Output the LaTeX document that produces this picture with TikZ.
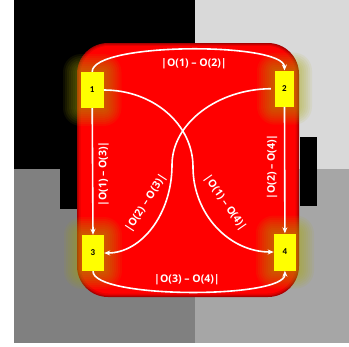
\documentclass[tikz,border=0pt]{standalone}
\usepackage{fontspec}
\setmainfont{Open Sans}
\newfontfamily\numfont{Carlito}
\usetikzlibrary{arrows.meta}
\definecolor{qTR}{HTML}{D9D9D9}
\definecolor{qBL}{HTML}{808080}
\definecolor{qBR}{HTML}{A6A6A6}
\definecolor{rOut}{HTML}{A80000}
\definecolor{rMid1}{HTML}{C80000}
\definecolor{rMid2}{HTML}{E60000}
\definecolor{rIn}{HTML}{FF0000}
\definecolor{glowc}{HTML}{A8A800}
\definecolor{boxyel}{HTML}{FFFF00}
\newcommand\glowbox[4]{%
  \foreach \d in {2,4,...,18}{%
    \fill[glowc, opacity=0.08, rounded corners=\d bp] ({#1-\d},{#2-\d}) rectangle ({#3+\d},{#4+\d});
  }%
}
\begin{document}
\begin{tikzpicture}[x=1bp,y=-1bp,
  numbox/.style={fill=boxyel, inner sep=0pt, minimum height=36bp, minimum width=22bp,
    font=\numfont\bfseries\fontsize{9}{10}\selectfont, text=black},
  edge/.style={draw=white, line width=1.6bp, -{Stealth[length=6bp,width=5bp]}},
  lbl/.style={text=white, inner sep=0pt, font=\bfseries\fontsize{10.6}{11}\selectfont}]
\useasboundingbox (0,0) rectangle (349,347);
\fill[white] (0,0) rectangle (349,347);
% background quadrants
\fill[black] (14,0) rectangle (195,169);
\fill[qTR] (195,0) rectangle (349,169);
\fill[qBL] (14,169) rectangle (195,343);
\fill[qBR] (195,169) rectangle (349,343);
\fill[black] (60,169) rectangle (90,209);
\fill[black] (300,137) rectangle (317,206);
% red rounded panel with darker rim
\fill[rOut, rounded corners=31bp] (77,43) rectangle (299,297);
\fill[rMid1, rounded corners=30bp] (78,44) rectangle (298,296);
\fill[rMid2, rounded corners=29bp] (79,45) rectangle (297,295);
\fill[rIn, rounded corners=28bp] (80.5,46) rectangle (295.5,293.5);
% glows
\glowbox{81}{72}{103.5}{108}
\glowbox{275}{70.7}{294}{106.7}
\glowbox{82}{235}{104}{271}
\glowbox{273.8}{233.5}{296}{270.5}
% nodes
\node[numbox, minimum width=23bp] (n1) at (92.2,90) {1};
\node[numbox, minimum width=19bp] (n2) at (284.5,88.7) {2};
\node[numbox] (n3) at (93,253) {3};
\node[numbox, minimum height=37bp] (n4) at (284.9,252) {4};
% connectors
\draw[edge] (n1.north) .. controls (92,42) and (284,42) .. (n2.north);
\draw[edge] (n3.south) .. controls (93,299) and (285,299) .. (n4.south);
\draw[edge] (n1.south) -- (n3.north);
\draw[edge] (n2.south) -- (n4.north);
\draw[edge] (n1.east) .. controls (153,90) and (193,124) .. (193,167) .. controls (193,214) and (229,252) .. (n4.west);
\draw[edge, shorten <=4bp] (n2.west) .. controls (218,89) and (172,123) .. (172,165) .. controls (172,214) and (141.5,253) .. (n3.east);
% labels
\node[lbl] (l12) at (194,63.5) {|O(1) – O(2)|};
\node[lbl] (l34) at (187,279.5) {|O(3) – O(4)|};
\node[lbl, rotate=90] (l13) at (103.5,174) {|O(1) – O(3)|};
\node[lbl, rotate=90] (l24) at (272,167) {|O(2) – O(4)|};
\node[lbl, rotate=57] (l23) at (146,203) {|O(2) – O(3)|};
\node[lbl, rotate=-55] (l14) at (225,203) {|O(1) – O(4)|};
\end{tikzpicture}
\end{document}
